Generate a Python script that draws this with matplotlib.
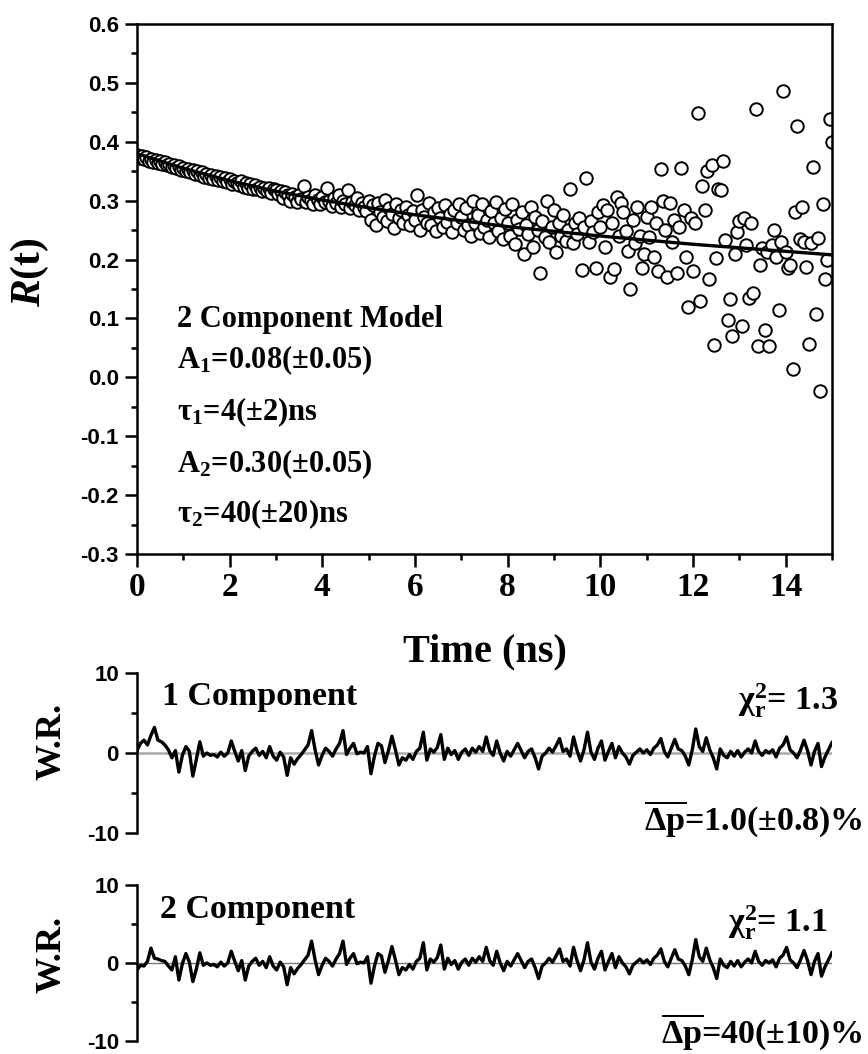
import numpy as np
import matplotlib.pyplot as plt
from matplotlib.ticker import MultipleLocator, FormatStrFormatter

plt.rcParams['font.family'] = 'Liberation Sans'
plt.rcParams['font.weight'] = 'bold'
plt.rcParams['axes.unicode_minus'] = False
plt.rcParams['mathtext.fontset'] = 'custom'
plt.rcParams['mathtext.rm'] = 'Liberation Serif:bold'
plt.rcParams['mathtext.it'] = 'Liberation Serif:italic:bold'
plt.rcParams['mathtext.bf'] = 'Liberation Serif:bold'

# anisotropy decay data, one point every 0.05 ns from 0 to 15 ns
r_data = [
    0.378, 0.372, 0.376, 0.370, 0.374, 0.368, 0.371, 0.366, 0.369, 0.364,
    0.367, 0.362, 0.365, 0.360, 0.363, 0.357, 0.361, 0.355, 0.359, 0.352,
    0.356, 0.350, 0.354, 0.348, 0.352, 0.345, 0.350, 0.343, 0.348, 0.341,
    0.346, 0.339, 0.344, 0.337, 0.342, 0.335, 0.340, 0.333, 0.338, 0.331,
    0.336, 0.328, 0.334, 0.330, 0.326, 0.333, 0.324, 0.330, 0.322, 0.328,
    0.320, 0.326, 0.319, 0.324, 0.317, 0.322, 0.316, 0.321, 0.313, 0.319,
    0.318, 0.311, 0.316, 0.305, 0.314, 0.309, 0.300, 0.312, 0.306, 0.298,
    0.310, 0.303, 0.325, 0.297, 0.307, 0.301, 0.295, 0.309, 0.302, 0.294,
    0.306, 0.297, 0.322, 0.300, 0.291, 0.305, 0.296, 0.310, 0.289, 0.300,
    0.294, 0.318, 0.287, 0.298, 0.292, 0.304, 0.285, 0.296, 0.290, 0.282,
    0.300, 0.268, 0.292, 0.258, 0.296, 0.280, 0.272, 0.302, 0.265, 0.288,
    0.278, 0.254, 0.295, 0.270, 0.284, 0.262, 0.290, 0.276, 0.258, 0.282,
    0.268, 0.310, 0.250, 0.285, 0.272, 0.262, 0.296, 0.258, 0.280, 0.248,
    0.288, 0.270, 0.255, 0.292, 0.264, 0.278, 0.246, 0.284, 0.262, 0.295,
    0.272, 0.250, 0.288, 0.258, 0.240, 0.300, 0.262, 0.276, 0.245, 0.294,
    0.255, 0.268, 0.238, 0.282, 0.262, 0.298, 0.248, 0.270, 0.235, 0.286,
    0.262, 0.240, 0.294, 0.226, 0.268, 0.252, 0.280, 0.210, 0.258, 0.244,
    0.290, 0.222, 0.272, 0.250, 0.178, 0.266, 0.238, 0.300, 0.230, 0.256,
    0.285, 0.212, 0.262, 0.240, 0.276, 0.232, 0.250, 0.320, 0.228, 0.262,
    0.244, 0.270, 0.183, 0.256, 0.338, 0.230, 0.265, 0.246, 0.186, 0.280,
    0.255, 0.292, 0.222, 0.285, 0.170, 0.262, 0.184, 0.306, 0.240, 0.296,
    0.281, 0.248, 0.215, 0.150, 0.268, 0.228, 0.290, 0.240, 0.185, 0.210,
    0.272, 0.238, 0.290, 0.205, 0.262, 0.180, 0.353, 0.300, 0.250, 0.170,
    0.296, 0.230, 0.268, 0.178, 0.255, 0.356, 0.285, 0.205, 0.120, 0.270,
    0.180, 0.262, 0.449, 0.129, 0.325, 0.285, 0.350, 0.167, 0.360, 0.055,
    0.202, 0.320, 0.318, 0.367, 0.233, 0.098, 0.133, 0.070, 0.210, 0.247,
    0.265, 0.088, 0.270, 0.225, 0.135, 0.262, 0.144, 0.455, 0.054, 0.190,
    0.220, 0.080, 0.212, 0.054, 0.225, 0.250, 0.205, 0.115, 0.230, 0.487,
    0.212, 0.185, 0.190, 0.014, 0.280, 0.427, 0.235, 0.290, 0.230, 0.188,
    0.057, 0.228, 0.358, 0.107, 0.237, -0.023, 0.295, 0.167, 0.200, 0.438,
    0.400,
]

# two component fit, read every 1 ns
fit_t = [0, 1, 2, 3, 4, 5, 6, 7, 8, 9, 10, 11, 12, 13, 14, 15]
fit_r = [0.380, 0.355, 0.334, 0.316, 0.301, 0.288, 0.276, 0.266,
         0.256, 0.248, 0.240, 0.233, 0.226, 0.220, 0.214, 0.208]

# weighted residuals: the first ~2 ns differ, the rest is the same trace
res1_start = [0.3, 1.2, 1.6, 1.0, 2.2, 3.2, 1.6, 1.4, 1.0, 0.4, -0.6, 0.3, -2.4, -0.3,
              0.8, 0.2, -2.9, -0.8, 1.4, -0.4, 0.0, -0.3, -0.2, -0.5, 0.1, -0.4, 0.0]
res2_start = [-0.9, -0.3, -0.4, 0.2, 1.9, 0.6, 0.5, 0.3, 0.2, -0.4, -0.9, 0.8, -2.2, -0.1,
              1.2, 0.1, -2.4, -0.8, 1.3, -0.3, 0.0, -0.3, -0.2, -0.5, 0.1, -0.4, 0.0]
res_tail = [
    1.5, 0.2, -1.0, 0.3, -2.2, -0.4, 0.2, 0.6, -0.3, 0.2,
    -0.6, 0.8, -0.4, -0.9, 0.1, -0.5, -2.8, -0.6, -1.4, -0.7,
    -0.2, 0.4, 1.0, 2.8, 0.4, -1.5, -0.3, 0.6, 0.2, -0.4,
    0.5, 1.2, 2.8, -0.2, 0.6, 1.2, -0.1, 0.1, 0.0, 0.8,
    -2.6, -0.4, 1.2, 0.9, -1.2, 0.3, 2.1, 0.4, -1.5, -0.6,
    -0.9, -0.2, -0.8, 0.2, 0.6, 2.6, -0.9, 0.5, 0.1, 0.7,
    2.3, -0.8,
    0.6, -0.2, 0.3, -0.8, 0.1, 0.5, -0.3, 0.6, 0.1, 0.8,
    0.2, 2.0, 0.3, -0.3, 1.5, 0.0, -1.0, 0.2, -0.4, 0.4,
    1.2, 0.3, -0.6, 0.2, 0.5, -0.6, -2.0, -0.4, 0.0, 0.6,
    0.1, 0.9, 1.8, 0.2, 0.5, -0.4, 2.0, 0.3, -1.0, 0.4,
    2.6, 0.1, -0.8, 0.6, 1.5, -0.9, 0.2, 1.2, -0.6, 0.8,
    0.0, -0.5, -1.4, -0.3, 0.1, 0.5, 0.0, 0.4, -0.2, 0.6,
    1.0, 1.8, 0.2, -0.5, 0.6, 1.7, 0.5, 0.3, -0.4, -1.5,
    0.4, 3.0, 0.8, 0.2, 1.9, 0.4, -0.6, -2.0, 0.5, -0.3,
    -0.6, 0.2, -0.4, 0.3, -0.5, 0.1, 0.5, 0.0, 1.5, 0.2,
    -0.3, 0.3, 0.0, 0.4, -0.5, 0.6, 1.0, 2.0, 0.4, 0.0,
    -0.6, 0.4, 1.6, 0.3, -1.5, 0.2, 1.2, -1.7, -0.5, 0.4,
    1.3,
]
res1 = res1_start + res_tail
res2 = res2_start + res_tail

t_data = np.linspace(0, 15, len(r_data))
t_res = np.linspace(0, 15, len(res1))

serif = dict(family='Liberation Serif', weight='bold')

fig = plt.figure(figsize=(8.68, 10.54), dpi=100)

# ---- main decay panel ----
ax = fig.add_axes([0.1578, 0.4744, 0.8007, 0.5028])
ax.plot(t_data, r_data, 'o', ms=9, mfc='white', mec='black', mew=1.4, zorder=2)
ax.plot(fit_t, fit_r, color='black', lw=2.4, zorder=3)
ax.set_xlim(0, 15)
ax.set_ylim(-0.3, 0.6)
ax.xaxis.set_major_locator(MultipleLocator(2))
ax.xaxis.set_minor_locator(MultipleLocator(1))
ax.yaxis.set_major_locator(MultipleLocator(0.1))
ax.yaxis.set_minor_locator(MultipleLocator(0.05))
ax.yaxis.set_major_formatter(FormatStrFormatter('%.1f'))
for s in ax.spines.values():
    s.set_linewidth(1.8)
ax.tick_params(which='both', direction='out', top=False, right=False, width=1.8)
ax.tick_params(which='major', length=9)
ax.tick_params(which='minor', length=4.5)
ax.tick_params(axis='x', pad=4, labelsize=24, labelfontfamily='Liberation Serif')
ax.tick_params(axis='y', pad=4, labelsize=16, labelfontfamily='Liberation Sans')
ax.set_xlabel('Time (ns)', fontsize=29, labelpad=22, **serif)
ax.text(-0.154, 0.532, r'$\mathit{R}$(t)', transform=ax.transAxes, rotation=90,
        ha='center', va='center', fontsize=30, **serif)

lines = ['2 Component Model',
         r'$\mathdefault{A_1}$=0.08(±0.05)',
         r'$\mathdefault{τ_1}$=4(±2)ns',
         r'$\mathdefault{A_2}$=0.30(±0.05)',
         r'$\mathdefault{τ_2}$=40(±20)ns']
ys = [0.428, 0.351, 0.253, 0.155, 0.060]
for s, y in zip(lines, ys):
    ax.text(0.0576, y, s, transform=ax.transAxes, fontsize=22, va='baseline', **serif)

# ---- residual panels ----
def residual_panel(rect, res, zero_kw):
    a = fig.add_axes(rect)
    a.axhline(0, **zero_kw, zorder=1)
    a.plot(t_res, res, color='black', lw=2.4, zorder=2)
    a.set_xlim(0, 15)
    a.set_ylim(-10, 10)
    for k in ['top', 'right', 'bottom']:
        a.spines[k].set_visible(False)
    a.spines['left'].set_linewidth(1.8)
    a.set_xticks([])
    a.yaxis.set_major_locator(MultipleLocator(10))
    a.yaxis.set_minor_locator(MultipleLocator(5))
    a.tick_params(which='both', direction='out', width=1.8)
    a.tick_params(which='major', length=9, pad=4, labelsize=16)
    a.tick_params(which='minor', length=4.5)
    a.patch.set_alpha(0)
    return a

residual_panel([0.1578, 0.2097, 0.8007, 0.1518], res1, dict(color='#aaaaaa', lw=1.8))
residual_panel([0.1578, 0.0125, 0.8007, 0.1478], res2, dict(color='#777777', lw=1.0))

fig.text(0.060, 0.297, 'W.R.', rotation=90, ha='center', va='center', fontsize=26, **serif)
fig.text(0.060, 0.094, 'W.R.', rotation=90, ha='center', va='center', fontsize=26, **serif)

big = 24.5
fig.text(0.1866, 0.3311, '1 Component', fontsize=big, va='baseline', **serif)
fig.text(0.9654, 0.3264, r'$\mathdefault{χ_r^2}$= 1.3', fontsize=big, ha='right', va='baseline', **serif)
fig.text(0.9942, 0.2125, r'$\mathdefault{\overline{Δp}}$=1.0(±0.8)%', fontsize=big,
         ha='right', va='baseline', **serif)

fig.text(0.1843, 0.129, '2 Component', fontsize=big, va='baseline', **serif)
fig.text(0.9528, 0.1157, r'$\mathdefault{χ_r^2}$= 1.1', fontsize=big, ha='right', va='baseline', **serif)
fig.text(0.9942, 0.0105, r'$\mathdefault{\overline{Δp}}$=40(±10)%', fontsize=big,
         ha='right', va='baseline', **serif)

fig.savefig('out.png', dpi=100)
